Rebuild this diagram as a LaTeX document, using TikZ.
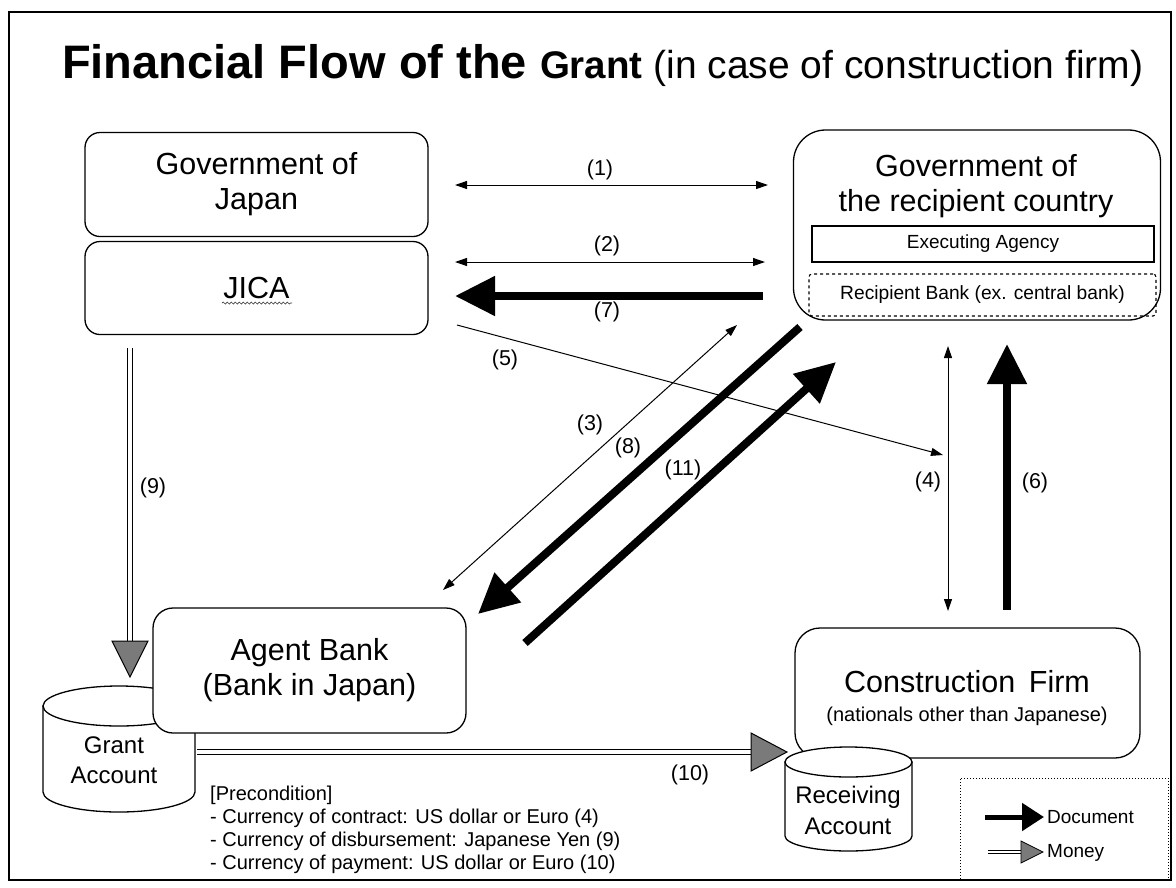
\documentclass[tikz,border=0pt]{standalone}
\usepackage{fontspec}
\setmainfont{Liberation Sans}
\usetikzlibrary{arrows.meta,decorations.pathmorphing}
\begin{document}
\begin{tikzpicture}[x=1pt,y=-1pt,
  box/.style={draw,line width=1.3pt,fill=white,inner sep=0pt,align=center},
  bigtxt/.style={font=\fontsize{30.5}{35}\selectfont},
  lbl/.style={font=\fontsize{21.5}{23}\selectfont,inner sep=0pt},
  thinarr/.style={line width=1pt,{Triangle[length=12pt,width=8pt]}-{Triangle[length=12pt,width=8pt]}},
  thinone/.style={line width=1pt,-{Triangle[length=12pt,width=8pt]}},
  doc/.style={line width=8pt,-{Triangle[length=40pt,width=38pt]}},
  money/.style={draw,line width=1.1pt,double=white,double distance=3.5pt},
  mhead/.style={draw,line width=1pt,fill=gray!70!black!80},
  cyl/.style={draw,line width=1.3pt,fill=white}]
\useasboundingbox (0,0) rectangle (1176,887);
\draw[line width=1.3pt] (9,12) rectangle (1171,880);

% title
\node[anchor=base west,inner sep=0pt] (title) at (62,78)
  {\fontsize{47}{50}\selectfont\bfseries Financial Flow of the \fontsize{38.5}{40}\selectfont Grant \mdseries\fontsize{39}{40}\selectfont(in case of construction firm)};

% Japan side
\node[box,rounded corners=15pt,minimum width=343pt,minimum height=104pt,bigtxt] (goj) at (256.5,184.5) {Government of\\Japan};
\node[box,rounded corners=15pt,minimum width=343pt,minimum height=93pt,bigtxt] (jica) at (256.5,288) {JICA};
\draw[decorate,decoration={snake,amplitude=1pt,segment length=4pt},line width=0.7pt,gray!50!black] (222,303) -- (292,303);

% recipient government
\node[box,rounded corners=32pt,minimum width=367pt,minimum height=190pt] (gor) at (977,225) {};
\node[bigtxt,inner sep=0pt,align=center] (gortxt) at (976,186) {Government of\\the recipient country};
\node[draw,line width=1.3pt,minimum width=342pt,minimum height=36pt,inner sep=0pt,font=\fontsize{19}{20}\selectfont] (exec) at (983,244) {Executing Agency};
\node[draw,dashed,line width=1.1pt,rounded corners=3pt,minimum width=347pt,minimum height=42pt,inner sep=0pt,font=\fontsize{19.2}{20}\selectfont] (rbank) at (982.5,295) {Recipient Bank (ex. central bank)};

% Grant account cylinder (behind agent bank)
\draw[cyl] (43,706) -- (43,792) arc[start angle=180,end angle=360,x radius=76pt,y radius=20pt] -- (195,706) -- cycle;
\draw[cyl] (119,706) ellipse[x radius=76pt,y radius=20pt];
\node[align=center,inner sep=0pt,font=\fontsize{24}{30}\selectfont] (grant) at (114,760) {Grant\\Account};

% Agent bank
\node[box,rounded corners=20pt,minimum width=313pt,minimum height=125pt,bigtxt] (agent) at (309.5,670.5) {Agent Bank\\(Bank in Japan)};

% Construction firm
\node[box,rounded corners=25pt,minimum width=345pt,minimum height=130pt] (firm) at (967.5,693) {};
\node[inner sep=0pt,font=\fontsize{30.5}{35}\selectfont] (firmtxt) at (967,682) {Construction\, Firm};
\node[inner sep=0pt,font=\fontsize{20}{22}\selectfont] (firmsub) at (967,716) {(nationals other than Japanese)};

% Receiving account cylinder
\draw[cyl] (785,762) -- (785,836) arc[start angle=180,end angle=360,x radius=63.5pt,y radius=15pt] -- (912,762) -- cycle;
\draw[cyl] (848.5,762) ellipse[x radius=63.5pt,y radius=15pt];
\node[align=center,inner sep=0pt,font=\fontsize{24}{31}\selectfont] (recv) at (848,810) {Receiving\\Account};

% connector end points
\coordinate (a1l) at (455,185); \coordinate (a1r) at (768,185);
\coordinate (a2l) at (455,262); \coordinate (a2r) at (765,262);
\coordinate (a7s) at (763,296); \coordinate (a7e) at (455,296);
\coordinate (a5s) at (457,325); \coordinate (a5e) at (943,455);
\coordinate (a3t) at (737,325); \coordinate (a3b) at (443,590);
\coordinate (a8s) at (800,327); \coordinate (a8e) at (478,614);
\coordinate (a11s) at (525,643); \coordinate (a11e) at (836,362);
\coordinate (a4t) at (948,346); \coordinate (a4b) at (948,611);
\coordinate (a6s) at (1007,610); \coordinate (a6e) at (1007,344);
\coordinate (a9s) at (130,348); \coordinate (a9b) at (130,641);
\coordinate (a10s) at (197,752); \coordinate (a10b) at (751,752);

% document / thin connectors
\draw[thinarr] (a1l) -- (a1r);
\draw[thinarr] (a2l) -- (a2r);
\draw[doc] (a7s) -- (a7e);
\draw[thinone] (a5s) -- (a5e);
\draw[thinarr] (a3t) -- (a3b);
\draw[doc] (a8s) -- (a8e);
\draw[doc] (a11s) -- (a11e);
\draw[thinarr] (a4t) -- (a4b);
\draw[doc] (a6s) -- (a6e);

% money connectors
\draw[money] (a9s) -- (a9b);
\draw[mhead] (112,641) -- (130,677) -- (148,641) -- cycle;
\draw[money] (a10s) -- (a10b);
\draw[mhead] (751,733) -- (787,752) -- (751,771) -- cycle;

% labels
\node[lbl] (l1) at (600,170) {(1)};
\node[lbl] (l2) at (607,246) {(2)};
\node[lbl] (l7) at (607,312) {(7)};
\node[lbl] (l5) at (505,360) {(5)};
\node[lbl] (l3) at (590,425) {(3)};
\node[lbl] (l8) at (628,448) {(8)};
\node[lbl] (l11) at (683,470) {(11)};
\node[lbl] (l4) at (928,482) {(4)};
\node[lbl] (l6) at (1035,483) {(6)};
\node[lbl] (l9) at (153,488) {(9)};
\node[lbl] (l10) at (690,775) {(10)};

% precondition
\node[anchor=north west,align=left,inner sep=0pt,font=\fontsize{20}{23}\selectfont] (pre) at (210,786)
  {[Precondition]\\- Currency of contract: US dollar or Euro (4)\\- Currency of disbursement: Japanese Yen (9)\\- Currency of payment: US dollar or Euro (10)};

% legend
\node[draw,dotted,line width=1pt,minimum width=208pt,minimum height=102pt,inner sep=0pt] (legend) at (1064,829) {};
\coordinate (ld1) at (985,817); \coordinate (ld2) at (1044,817);
\draw[line width=5pt,-{Triangle[length=22pt,width=27pt]}] (ld1) -- (ld2);
\node[anchor=west,inner sep=0pt,font=\fontsize{19}{21}\selectfont] (ldoc) at (1047,817) {Document};
\coordinate (lm1) at (988,852); \coordinate (lm2) at (1021,852);
\draw[money,line width=0.9pt,double distance=2.5pt] (lm1) -- (lm2);
\draw[mhead,line width=0.8pt] (1021,841) -- (1043,852) -- (1021,863) -- cycle;
\node[anchor=west,inner sep=0pt,font=\fontsize{19}{21}\selectfont] (lmon) at (1047,853) {Money};
\end{tikzpicture}
\end{document}
